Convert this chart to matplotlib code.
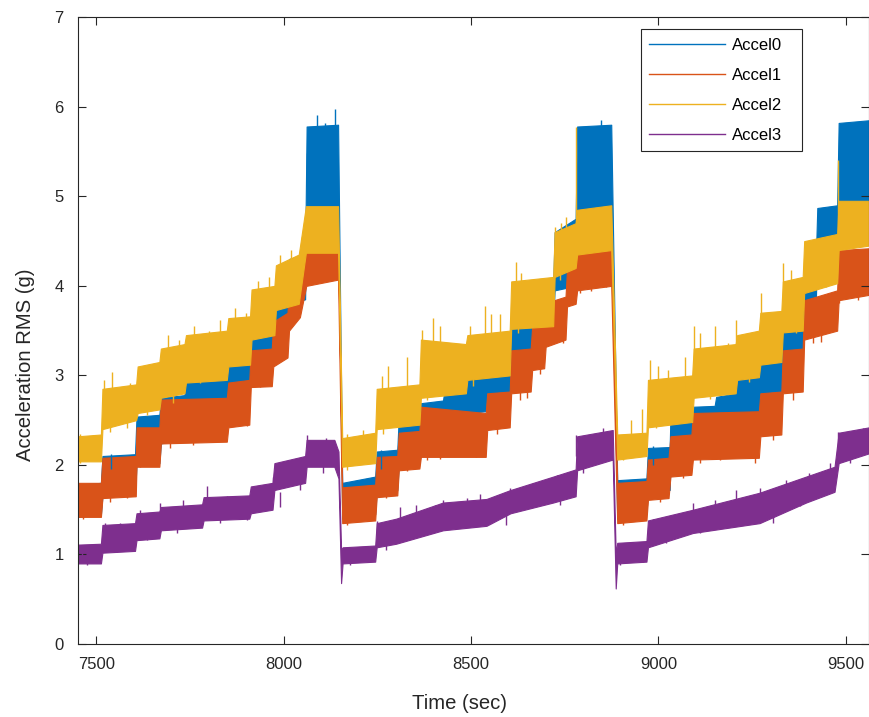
import matplotlib
matplotlib.use("Agg")
import matplotlib.pyplot as plt
from matplotlib.lines import Line2D
import numpy as np

plt.rcParams["font.family"] = ["Liberation Sans", "DejaVu Sans"]

labels = ["Accel0", "Accel1", "Accel2", "Accel3"]
colors = ["#0072BD", "#D95319", "#EDB120", "#7E2F8E"]

# RMS envelopes per channel: (time s, low g, high g)
accel0 = np.array([
    (7450, 1.42, 1.78), (7512, 1.45, 1.80), (7516, 1.65, 2.10), (7603, 1.68, 2.12),
    (7607, 2.00, 2.54), (7668, 2.02, 2.56), (7672, 2.24, 2.75), (7735, 2.30, 2.78),
    (7739, 2.65, 3.10), (7848, 2.68, 3.12), (7852, 2.87, 3.28), (7908, 2.90, 3.32),
    (7912, 3.10, 3.55), (7968, 3.15, 3.60), (7972, 3.35, 3.85), (8010, 3.40, 3.90),
    (8014, 3.80, 4.30), (8057, 3.85, 4.35), (8061, 4.85, 5.78), (8145, 4.85, 5.80),
    (8156, 1.40, 1.80), (8244, 1.45, 1.87), (8248, 1.70, 2.15), (8303, 1.72, 2.17),
    (8307, 2.00, 2.54), (8362, 2.02, 2.56), (8366, 2.15, 2.69), (8425, 2.15, 2.72),
    (8429, 2.40, 2.84), (8486, 2.42, 2.86), (8490, 2.58, 3.06), (8539, 2.60, 3.08),
    (8543, 2.80, 3.25), (8603, 2.82, 3.28), (8607, 3.25, 3.62), (8659, 3.28, 3.65),
    (8663, 3.40, 3.80), (8719, 3.60, 4.00), (8723, 3.95, 4.60), (8779, 4.00, 4.75),
    (8783, 4.81, 5.78), (8874, 4.85, 5.80),
    (8890, 1.40, 1.83), (8968, 1.45, 1.85), (8972, 1.70, 2.19), (9030, 1.72, 2.20),
    (9032, 2.00, 2.54), (9088, 2.02, 2.56), (9092, 2.10, 2.65), (9150, 2.12, 2.66),
    (9154, 2.30, 2.76), (9206, 2.35, 2.80), (9210, 2.54, 2.98), (9268, 2.56, 3.00),
    (9272, 2.80, 3.21), (9328, 2.82, 3.24), (9332, 3.25, 3.54), (9385, 3.28, 3.58),
    (9389, 3.70, 4.20), (9420, 3.80, 4.30), (9424, 4.51, 4.87), (9477, 4.55, 4.90),
    (9481, 4.85, 5.82), (9562, 4.90, 5.85),
])

accel1 = np.array([
    (7450, 1.42, 1.80), (7512, 1.42, 1.80), (7516, 1.63, 2.08), (7605, 1.65, 2.10),
    (7607, 1.98, 2.42), (7668, 1.98, 2.42), (7672, 2.24, 2.73), (7848, 2.26, 2.75),
    (7852, 2.42, 2.92), (7908, 2.45, 2.95), (7912, 2.87, 3.28), (7968, 2.88, 3.30),
    (7972, 3.10, 3.60), (8010, 3.20, 3.70), (8014, 3.50, 4.00), (8043, 3.65, 4.21),
    (8060, 4.00, 4.45), (8145, 4.07, 4.48),
    (8156, 1.35, 1.75), (8244, 1.38, 1.78), (8248, 1.64, 2.09), (8303, 1.66, 2.10),
    (8307, 1.94, 2.36), (8362, 1.96, 2.38), (8366, 2.09, 2.65), (8539, 2.09, 2.58),
    (8543, 2.39, 2.80), (8603, 2.42, 2.82), (8607, 2.80, 3.28), (8659, 2.82, 3.30),
    (8663, 3.06, 3.54), (8695, 3.08, 3.56), (8699, 3.32, 3.81), (8752, 3.40, 3.88),
    (8756, 3.77, 4.18), (8779, 3.80, 4.20), (8783, 3.95, 4.44), (8874, 4.00, 4.48),
    (8890, 1.35, 1.80), (8968, 1.38, 1.82), (8972, 1.61, 2.06), (9027, 1.63, 2.08),
    (9032, 1.87, 2.32), (9088, 1.89, 2.34), (9092, 2.06, 2.58), (9268, 2.08, 2.60),
    (9272, 2.32, 2.80), (9328, 2.34, 2.82), (9332, 2.80, 3.28), (9385, 2.82, 3.30),
    (9389, 3.40, 3.84), (9477, 3.50, 3.95), (9481, 3.84, 4.40), (9562, 3.90, 4.42),
])

accel2 = np.array([
    (7450, 2.04, 2.32), (7512, 2.04, 2.34), (7516, 2.40, 2.85), (7606, 2.50, 2.90),
    (7610, 2.58, 3.10), (7668, 2.62, 3.15), (7672, 2.75, 3.30), (7735, 2.80, 3.35),
    (7739, 2.92, 3.45), (7848, 2.95, 3.50), (7852, 3.10, 3.64), (7910, 3.12, 3.66),
    (7914, 3.40, 3.96), (7975, 3.45, 4.00), (7979, 3.73, 4.23), (8040, 3.80, 4.35),
    (8059, 4.37, 4.89), (8145, 4.37, 4.89),
    (8156, 1.98, 2.30), (8244, 2.02, 2.36), (8248, 2.40, 2.85), (8362, 2.45, 2.90),
    (8366, 2.75, 3.40), (8486, 2.80, 3.35), (8490, 2.95, 3.45), (8603, 3.00, 3.50),
    (8607, 3.52, 4.05), (8719, 3.55, 4.10), (8723, 4.10, 4.60), (8779, 4.20, 4.70),
    (8783, 4.35, 4.85), (8874, 4.40, 4.90),
    (8890, 2.06, 2.34), (8968, 2.10, 2.36), (8972, 2.42, 2.95), (9090, 2.48, 3.00),
    (9094, 2.75, 3.30), (9206, 2.80, 3.35), (9210, 2.95, 3.45), (9268, 2.98, 3.50),
    (9272, 3.12, 3.70), (9328, 3.15, 3.72), (9332, 3.48, 4.05), (9385, 3.50, 4.10),
    (9389, 3.92, 4.50), (9477, 4.03, 4.58), (9481, 4.40, 4.95), (9562, 4.45, 4.95),
])

accel3 = np.array([
    (7450, 0.90, 1.11), (7512, 0.90, 1.12), (7516, 1.02, 1.33), (7603, 1.04, 1.35),
    (7607, 1.16, 1.46), (7668, 1.18, 1.48), (7672, 1.27, 1.53), (7782, 1.30, 1.56),
    (7786, 1.38, 1.64), (7908, 1.40, 1.66), (7912, 1.46, 1.76), (7970, 1.50, 1.80),
    (7975, 1.72, 2.02), (8057, 1.80, 2.10), (8061, 1.98, 2.28), (8135, 1.98, 2.28),
    (8146, 1.85, 2.15), (8153, 0.68, 1.05),
    (8157, 0.90, 1.08), (8244, 0.92, 1.10), (8248, 1.08, 1.35), (8300, 1.12, 1.40),
    (8425, 1.27, 1.58), (8541, 1.32, 1.62), (8605, 1.46, 1.72), (8719, 1.58, 1.87),
    (8779, 1.65, 1.95), (8783, 1.94, 2.32), (8878, 2.06, 2.39), (8886, 0.62, 1.00),
    (8890, 0.90, 1.13), (8968, 0.92, 1.15), (8972, 1.08, 1.38), (9092, 1.24, 1.50),
    (9270, 1.35, 1.69), (9394, 1.58, 1.87), (9470, 1.70, 1.98), (9481, 2.02, 2.36),
    (9562, 2.13, 2.42),
])

# short excursions beyond the envelopes: (time s, from g, to g)
spikes0 = np.array([
    (8061, 5.30, 5.48), (8088, 5.60, 5.91), (8137, 5.60, 5.97), (8110, 5.55, 5.82),
    (8817, 5.50, 5.72), (8848, 5.55, 5.85), (8800, 5.45, 5.62),
    (9501, 5.40, 5.59), (9528, 5.55, 5.82), (9550, 5.50, 5.70),
    (7540, 1.95, 2.12), (8260, 1.95, 2.17), (8985, 2.00, 2.21),
])

spikes1 = np.array([
    (7465, 1.40, 1.60), (7501, 1.44, 1.62), (7537, 1.59, 1.80), (7581, 1.63, 1.85),
    (7617, 1.98, 2.15), (7657, 2.00, 2.20), (7697, 2.19, 2.40), (7759, 2.22, 2.42),
    (7821, 2.28, 2.46), (7865, 2.45, 2.65), (7901, 2.43, 2.62), (7937, 2.87, 3.05),
    (7963, 2.93, 3.10),
    (8168, 1.33, 1.52), (8221, 1.37, 1.55), (8274, 1.63, 1.82), (8328, 1.93, 2.10),
    (8381, 2.06, 2.30), (8417, 2.07, 2.30), (8461, 2.15, 2.35), (8514, 2.09, 2.30),
    (8568, 2.35, 2.55), (8630, 2.73, 2.95), (8650, 2.75, 2.95), (8683, 3.02, 3.25),
    (8745, 3.36, 3.55), (8790, 3.92, 4.10), (8820, 3.94, 4.12), (8861, 3.99, 4.20),
    (8905, 1.33, 1.52), (8950, 1.37, 1.55), (9003, 1.59, 1.80), (9065, 1.85, 2.05),
    (9110, 2.02, 2.25), (9163, 2.06, 2.25), (9217, 2.11, 2.30), (9259, 2.02, 2.25),
    (9305, 2.28, 2.50), (9359, 2.73, 2.95), (9412, 3.36, 3.55), (9435, 3.37, 3.55),
    (9483, 3.81, 4.00), (9532, 3.84, 4.05),
])

spikes2 = np.array([
    (7457, 2.15, 2.35), (7492, 2.15, 2.34), (7519, 2.70, 2.95), (7541, 2.70, 3.04),
    (7568, 2.65, 2.87), (7590, 2.70, 2.91), (7617, 2.85, 3.08), (7643, 2.85, 3.02),
    (7690, 3.15, 3.45), (7720, 3.15, 3.40), (7760, 3.30, 3.55), (7800, 3.30, 3.50),
    (7830, 3.30, 3.62), (7870, 3.45, 3.75), (7900, 3.45, 3.70), (7930, 3.75, 4.05),
    (7960, 3.80, 4.10), (7990, 4.05, 4.35), (8020, 4.10, 4.40), (8050, 4.20, 4.55),
    (7457, 2.02, 2.20), (7537, 2.37, 2.55), (7581, 2.41, 2.60), (7634, 2.56, 2.75),
    (7705, 2.69, 2.90), (7777, 2.91, 3.10),
    (8168, 2.15, 2.35), (8212, 2.15, 2.39), (8261, 2.70, 2.99), (8279, 2.70, 3.10),
    (8328, 2.70, 3.21), (8368, 3.20, 3.51), (8399, 3.20, 3.64), (8417, 3.20, 3.55),
    (8461, 3.10, 3.32), (8497, 3.25, 3.55), (8537, 3.30, 3.77), (8554, 3.30, 3.69),
    (8577, 3.30, 3.69), (8619, 3.85, 4.27), (8634, 3.85, 4.14), (8657, 3.85, 4.05),
    (8674, 3.85, 4.07), (8723, 4.40, 4.66), (8741, 4.45, 4.70), (8754, 4.45, 4.77),
    (8781, 4.50, 5.78),
    (8168, 1.94, 2.10), (8265, 2.35, 2.55), (8381, 2.73, 2.95), (8505, 2.88, 3.10),
    (8625, 3.47, 3.65), (8736, 4.07, 4.25),
    (8897, 2.15, 2.32), (8928, 2.15, 2.50), (8957, 2.15, 2.63), (8977, 2.70, 3.17),
    (8999, 2.70, 3.10), (9025, 2.70, 3.06), (9070, 2.75, 3.21), (9094, 3.00, 3.55),
    (9110, 3.00, 3.47), (9150, 3.05, 3.55), (9185, 3.05, 3.36), (9208, 3.20, 3.62),
    (9239, 3.20, 3.47), (9274, 3.40, 3.92), (9297, 3.40, 3.69), (9332, 3.75, 4.25),
    (9354, 3.75, 4.18), (9377, 3.75, 3.99), (9394, 4.20, 4.37), (9448, 4.25, 4.48),
    (9479, 4.60, 5.41),
    (8905, 2.06, 2.25), (8994, 2.41, 2.60), (9065, 2.47, 2.65), (9137, 2.74, 2.95),
    (9243, 2.93, 3.10), (9305, 3.14, 3.30), (9368, 3.47, 3.65), (9448, 3.99, 4.20),
])

spikes3 = np.array([
    (7461, 0.95, 1.11), (7523, 1.15, 1.35), (7563, 1.15, 1.35), (7617, 1.30, 1.50),
    (7670, 1.35, 1.57), (7732, 1.40, 1.61), (7794, 1.50, 1.76), (7848, 1.50, 1.65),
    (7914, 1.55, 1.72), (7972, 1.65, 1.87), (8025, 1.85, 2.06), (8061, 2.10, 2.33),
    (8114, 2.10, 2.30),
    (7474, 0.88, 1.00), (7554, 1.03, 1.20), (7634, 1.16, 1.35), (7714, 1.24, 1.40),
    (7830, 1.35, 1.50), (7901, 1.39, 1.55), (7990, 1.53, 1.70), (8043, 1.72, 1.90),
    (8105, 1.91, 2.10),
    (8248, 1.20, 1.37), (8310, 1.30, 1.53), (8354, 1.30, 1.55), (8403, 1.35, 1.55),
    (8425, 1.40, 1.61), (8488, 1.45, 1.63), (8523, 1.45, 1.67), (8603, 1.55, 1.74),
    (8665, 1.60, 1.80), (8728, 1.70, 1.89), (8781, 2.10, 2.34), (8852, 2.20, 2.41),
    (8177, 0.88, 1.00), (8274, 1.05, 1.20), (8399, 1.24, 1.40), (8505, 1.31, 1.45),
    (8594, 1.33, 1.50), (8737, 1.55, 1.70), (8799, 1.91, 2.10),
    (8932, 0.98, 1.14), (8985, 1.20, 1.40), (9092, 1.35, 1.57), (9150, 1.40, 1.61),
    (9208, 1.50, 1.72), (9270, 1.50, 1.74), (9341, 1.60, 1.83), (9403, 1.70, 1.91),
    (9457, 1.80, 2.02), (9479, 2.15, 2.37), (9545, 2.25, 2.41),
    (8897, 0.88, 1.00), (8959, 0.92, 1.05), (9021, 1.13, 1.30), (9110, 1.24, 1.40),
    (9217, 1.35, 1.50), (9305, 1.35, 1.50), (9377, 1.54, 1.70), (9448, 1.72, 1.88),
    (9510, 2.02, 2.20),
])

fig = plt.figure(figsize=(8.69, 7.17), dpi=100)
ax = fig.add_axes([0.0894, 0.1018, 0.9106, 0.8741])

for band, spk, c in zip([accel0, accel1, accel2, accel3],
                        [spikes0, spikes1, spikes2, spikes3], colors):
    ax.fill_between(band[:, 0], band[:, 1], band[:, 2], color=c, lw=0.8)
    ax.vlines(spk[:, 0], spk[:, 1], spk[:, 2], color=c, lw=1.0)

ax.set_xlim(7450, 9562)
ax.set_ylim(0, 7)
ax.set_xticks([7500, 8000, 8500, 9000, 9500])
ax.set_yticks(range(8))

axis_color = "#262626"
for s in ax.spines.values():
    s.set_color(axis_color)
    s.set_linewidth(0.8)
ax.tick_params(direction="in", top=True, right=True, length=5.5, width=0.8,
               color=axis_color, labelcolor=axis_color, labelsize=12)
ax.tick_params(axis="y", pad=10)
ax.tick_params(axis="x", pad=9)

ax.set_xlabel("Time (sec)", fontsize=14.6, color=axis_color)
ax.set_ylabel("Acceleration RMS (g)", fontsize=14.6, color=axis_color)
ax.xaxis.set_label_coords(0.482, -0.080)
ax.yaxis.set_label_coords(-0.054, 0.445)

handles = [Line2D([], [], color=c, lw=1.0) for c in colors]
leg = ax.legend(handles, labels, loc="upper left",
                bbox_to_anchor=(0.712, 0.777, 0.203, 0.204), mode="expand",
                borderaxespad=0, fontsize=12, handlelength=4.55, handletextpad=0.4,
                labelspacing=0.9, borderpad=0.5, fancybox=False, framealpha=1)
leg.get_frame().set_edgecolor(axis_color)
leg.get_frame().set_linewidth(0.8)

fig.savefig("out.png", dpi=100)
